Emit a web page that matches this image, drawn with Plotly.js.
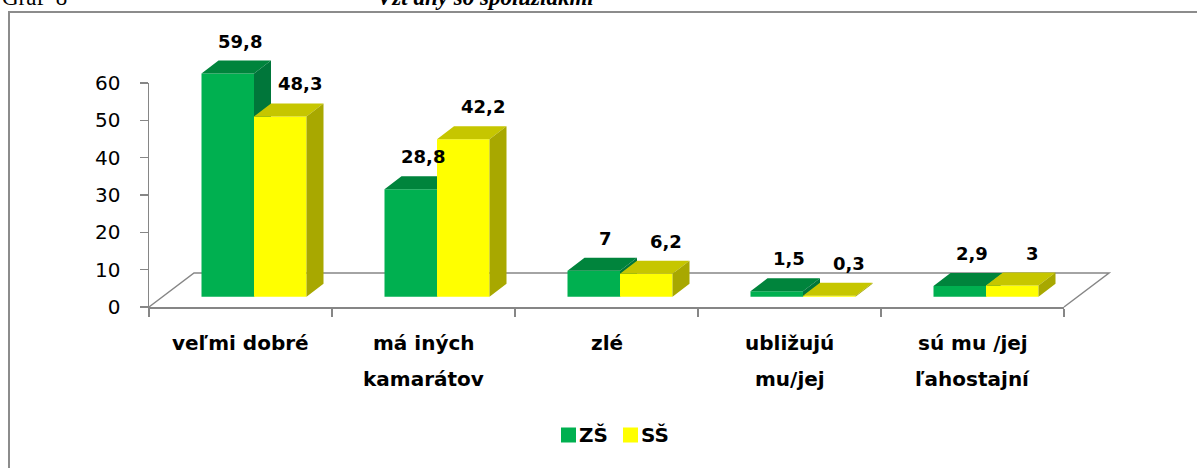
<!DOCTYPE html>
<html>
<head>
<meta charset="utf-8">
<script src="https://cdn.plot.ly/plotly-3.0.1.min.js"></script>
<style>html,body{margin:0;padding:0;background:#fff;}#chart{width:1197px;height:468px;}</style>
</head>
<body>
<div id="chart"></div>
<script>
// ---- data ----
const categories = ['veľmi dobré', 'má iných<br>kamarátov', 'zlé', 'ubližujú<br>mu/jej', 'sú mu /jej<br>ľahostajní'];
const seriesNames = ['ZŠ', 'SŠ'];
const zsValues = [59.8, 28.8, 7, 1.5, 2.9];
const ssValues = [48.3, 42.2, 6.2, 0.3, 3];
const yTicks = [0, 10, 20, 30, 40, 50, 60];
const headLeft = 'Graf  8';
const headTitle = 'Vzťahy so spolužiakmi';

// ---- layout geometry (pixels) ----
const W = 1197, H = 468;
const plotL = 149, plotR = 1064, plotT = 83, plotB = 307;
const nCat = categories.length;
const catW = (plotR - plotL) / nCat;
const yMax = 60;
const ppu = (plotB - plotT) / yMax;
const floorDX = 45, floorDY = 34, frontFrac = 0.3;
const fx = floorDX * frontFrac, fy = floorDY * frontFrac;
const barPx = 52.5, sideDX = 17, sideDY = 13;
const L2 = 60, R2 = 1180, T2 = 5, B2 = 340;
const c0 = plotL + catW / 2 + fx, y0 = plotB - fy;
const x2range = [(L2 - c0) / catW, (R2 - c0) / catW];
const y2range = [(y0 - B2) / ppu, (y0 - T2) / ppu];
const bw = barPx / catW, ddx = sideDX / catW, ddy = sideDY / ppu;

const px = p => p / W, py = p => 1 - p / H;
const FONT = 'DejaVu Sans, Liberation Sans, sans-serif';
const GRAY = '#868686';

const colors = {
  ZS: {front: '#00B050', top: '#00843C', side: '#00763A'},
  SS: {front: '#FFFF00', top: '#C6C600', side: '#A8A800'}
};
const seriesColors = [colors.ZS, colors.SS];

const idx = categories.map((c, i) => i);

function faces(vals, xoff) {
  const top = {x: [], y: []}, side = {x: [], y: []};
  vals.forEach((v, i) => {
    const xl = i + xoff, xr = xl + bw;
    top.x.push(xl, xr, xr + ddx, xl + ddx, xl, null);
    top.y.push(v, v, v + ddy, v + ddy, v, null);
    side.x.push(xr, xr, xr + ddx, xr + ddx, xr, null);
    side.y.push(0, v, v + ddy, ddy, 0, null);
  });
  return {top, side};
}

function seriesTraces(name, vals, xoff, col, xa, ya) {
  const f = faces(vals, xoff);
  return [
    {type: 'bar', name: name, x: idx, y: vals, width: bw, offset: xoff,
     marker: {color: col.front, line: {width: 0}}, xaxis: xa, yaxis: ya,
     hoverinfo: 'skip', cliponaxis: false, showlegend: false},
    {type: 'scatter', mode: 'lines', x: f.top.x, y: f.top.y, fill: 'toself',
     fillcolor: col.top, line: {width: 0, color: col.top}, xaxis: xa, yaxis: ya,
     showlegend: false, hoverinfo: 'skip'},
    {type: 'scatter', mode: 'lines', x: f.side.x, y: f.side.y, fill: 'toself',
     fillcolor: col.side, line: {width: 0, color: col.side}, xaxis: xa, yaxis: ya,
     showlegend: false, hoverinfo: 'skip'}
  ];
}

const data = [].concat(
  seriesTraces(seriesNames[0], zsValues, -bw, colors.ZS, 'x2', 'y2'),
  seriesTraces(seriesNames[1], ssValues, 0, colors.SS, 'x3', 'y3')
);

const fmt = v => String(v).replace('.', ',');
const annotations = [];
const labelFont = {family: FONT, size: 18, color: '#000', weight: 'bold'};
// data labels
zsValues.forEach((v, i) => annotations.push({
  xref: 'x2', yref: 'y2', x: i - bw / 2 + 12 / catW, y: v + ddy, yanchor: 'bottom', yshift: 7,
  text: fmt(v), showarrow: false, font: labelFont
}));
ssValues.forEach((v, i) => annotations.push({
  xref: 'x3', yref: 'y3', x: i + bw / 2 + 20 / catW, y: v + ddy, yanchor: 'bottom', yshift: 7,
  text: fmt(v), showarrow: false, font: labelFont
}));
// category labels (two-line with wide spacing)
categories.forEach((c, i) => {
  c.split('<br>').forEach((line, k) => annotations.push({
    xref: 'x', yref: 'paper', x: i, y: py(343 + 36 * k), yanchor: 'middle',
    text: line, showarrow: false, font: {family: FONT, size: 20, color: '#000', weight: 'bold'}
  }));
});
// heading above frame (partly cut at the top edge, as in the reference)
annotations.push({xref: 'paper', yref: 'paper', x: 0, xanchor: 'left', y: py(-3), yanchor: 'middle',
  text: headLeft, showarrow: false, font: {family: 'Liberation Serif, serif', size: 23, color: '#000'}});
annotations.push({xref: 'paper', yref: 'paper', x: px(375), xanchor: 'left', y: py(-3), yanchor: 'middle',
  text: '<b><i>' + headTitle + '</i></b>', showarrow: false,
  font: {family: 'Liberation Serif, serif', size: 23, color: '#000'}});

const shapes = [
  {type: 'rect', xref: 'paper', yref: 'paper', x0: px(9), x1: px(1210), y0: py(12), y1: py(490),
   line: {color: '#8C8C8C', width: 2}, fillcolor: 'rgba(0,0,0,0)', layer: 'below'},
  {type: 'path', xref: 'paper', yref: 'paper', layer: 'below',
   path: `M${px(plotL)},${py(plotB)} L${px(plotL + floorDX)},${py(plotB - floorDY)} L${px(plotR + floorDX)},${py(plotB - floorDY)} L${px(plotR)},${py(plotB)}`,
   line: {color: GRAY, width: 1.5}}
];

// legend (square key + bold name)
const legendX = [561, 623], legendY = 435, keySize = 15;
seriesNames.forEach((n, k) => {
  shapes.push({type: 'rect', xref: 'paper', yref: 'paper',
    x0: px(legendX[k]), x1: px(legendX[k] + keySize),
    y0: py(legendY + keySize / 2), y1: py(legendY - keySize / 2),
    fillcolor: seriesColors[k].front, line: {width: 0}});
  annotations.push({xref: 'paper', yref: 'paper', x: px(legendX[k] + keySize + 1), xanchor: 'left',
    y: py(legendY), yanchor: 'middle', text: n, showarrow: false,
    font: {family: FONT, size: 20, color: '#000', weight: 'bold'}});
});

const hidden = {visible: false, fixedrange: true, showgrid: false, zeroline: false};

const layout = {
  width: W, height: H,
  margin: {l: 0, r: 0, t: 0, b: 0, pad: 0},
  paper_bgcolor: '#fff', plot_bgcolor: 'rgba(0,0,0,0)',
  barmode: 'overlay',
  showlegend: false,
  xaxis: {domain: [px(plotL), px(plotR)], range: [-0.5, nCat - 0.5], anchor: 'y',
          tickmode: 'array', tickvals: idx.concat([nCat]).map(i => i - 0.5),
          ticktext: idx.concat([nCat]).map(() => ''), ticks: 'outside', ticklen: 8,
          tickcolor: GRAY, tickwidth: 1.5, showline: true, linecolor: GRAY, linewidth: 1.5,
          showgrid: false, zeroline: false, fixedrange: true},
  yaxis: {domain: [py(plotB), py(plotT)], range: [0, yMax], anchor: 'x',
          tickmode: 'array', tickvals: yTicks, ticktext: yTicks.map(String),
          ticks: 'outside', ticklen: 8, tickcolor: GRAY, tickwidth: 1.5,
          showline: true, linecolor: GRAY, linewidth: 1.5, ticklabelstandoff: 15,
          tickfont: {family: FONT, size: 20, color: '#000'},
          showgrid: false, zeroline: false, fixedrange: true},
  xaxis2: Object.assign({domain: [px(L2), px(R2)], range: x2range, anchor: 'y2'}, hidden),
  yaxis2: Object.assign({domain: [py(B2), py(T2)], range: y2range, anchor: 'x2'}, hidden),
  xaxis3: Object.assign({overlaying: 'x2', range: x2range, anchor: 'y3'}, hidden),
  yaxis3: Object.assign({overlaying: 'y2', range: y2range, anchor: 'x3'}, hidden),
  annotations: annotations,
  shapes: shapes
};

Plotly.newPlot('chart', data, layout, {displayModeBar: false, staticPlot: true});
</script>
</body>
</html>
